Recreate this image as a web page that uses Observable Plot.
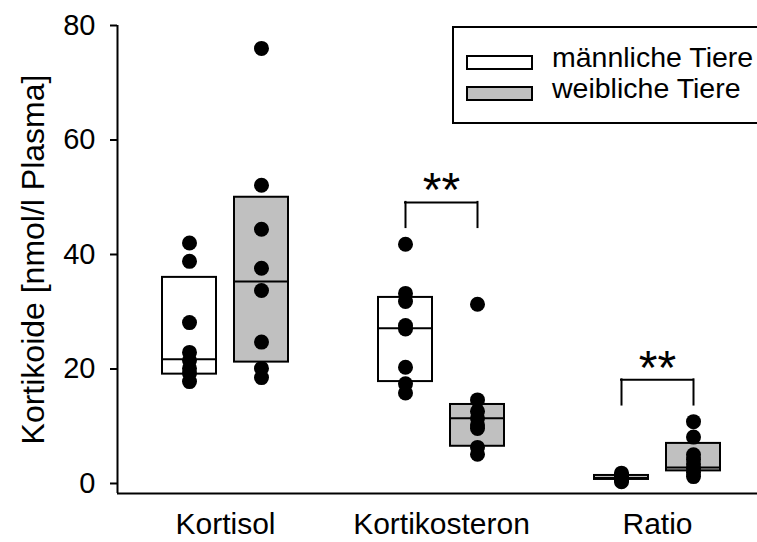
<!DOCTYPE html>
<html><head><meta charset="utf-8">
<script src="https://cdn.jsdelivr.net/npm/d3@7"></script>
<script src="https://cdn.jsdelivr.net/npm/@observablehq/plot@0.6"></script>
<style>
body{margin:0;background:#fff;overflow:hidden;}
#chart{position:relative;width:757px;height:542px;overflow:hidden;}
</style></head><body><div id="chart"></div>
<script>
// ---- data ----
const categories = ["Kortisol", "Kortikosteron", "Ratio"];
const sexes = ["männliche Tiere", "weibliche Tiere"];
const sexFills = ["#ffffff", "#c0c0c0"];

const maleValues = [
  [42.0, 38.8, 28.1, 22.9, 21.5, 20.1, 19.2, 17.8],
  [41.8, 33.2, 31.8, 27.6, 27.0, 20.3, 17.4, 15.8],
  [1.8, 1.5, 1.2, 1.0, 0.9, 0.7, 0.5, 0.3]
];
const femaleValues = [
  [76.0, 52.1, 44.4, 37.6, 33.7, 24.7, 20.1, 18.5],
  [31.3, 14.6, 12.6, 11.4, 10.2, 9.6, 6.3, 5.1],
  [10.8, 8.1, 5.0, 4.2, 3.4, 2.6, 1.9, 1.2]
];
const maleQ1 = [19.1, 17.8, 0.7];
const maleMedian = [21.7, 27.1, 1.0];
const maleQ3 = [36.0, 32.5, 1.4];
const femaleQ1 = [21.2, 6.5, 2.2];
const femaleMedian = [35.3, 11.4, 2.8];
const femaleQ3 = [50.0, 13.8, 7.0];

const sigCategories = ["Kortikosteron", "Ratio"];
const sigLabels = ["**", "**"];
const bracketTop = [49.1, 18.1];
const bracketFoot = [44.7, 13.7];

const yTicks = [0, 20, 40, 60, 80];
const yLabel = "Kortikoide [nmol/l Plasma]";

// ---- build tables ----
const offset = 1 / 6, halfWidth = 0.125;
const pos = (ci, s) => ci + 1 + (s === 0 ? -offset : offset);
const boxes = [];
categories.forEach((c, i) => {
  boxes.push({cat: c, sex: 0, x: pos(i, 0), q1: maleQ1[i], med: maleMedian[i], q3: maleQ3[i]});
  boxes.push({cat: c, sex: 1, x: pos(i, 1), q1: femaleQ1[i], med: femaleMedian[i], q3: femaleQ3[i]});
});
const points = [];
categories.forEach((c, i) => {
  maleValues[i].forEach(v => points.push({x: pos(i, 0), v}));
  femaleValues[i].forEach(v => points.push({x: pos(i, 1), v}));
});
const sig = sigCategories.map((c, k) => {
  const i = categories.indexOf(c);
  return {xc: i + 1, xa: pos(i, 0), xb: pos(i, 1), top: bracketTop[k], foot: bracketFoot[k], label: sigLabels[k]};
});
const legs = sig.flatMap(d => [{x: d.xa, y1: d.foot, y2: d.top}, {x: d.xb, y1: d.foot, y2: d.top}]);

const xDomain = [0.5, 0.5 + 640 / 216];
const yDomain = [-1.75, 80];
const font = "'Liberation Sans', Arial, Helvetica, sans-serif";

const chart = Plot.plot({
  width: 757, height: 542,
  marginLeft: 117, marginRight: 0, marginTop: 25, marginBottom: 49,
  style: {fontFamily: font, background: "#fff", color: "#000", overflow: "visible"},
  x: {domain: xDomain, axis: null},
  y: {domain: yDomain, axis: null},
  marks: [
    Plot.rect(boxes.filter(d => d.sex === 0), {x1: d => d.x - halfWidth, x2: d => d.x + halfWidth, y1: "q1", y2: "q3", fill: sexFills[0], stroke: "#000", strokeWidth: 2}),
    Plot.rect(boxes.filter(d => d.sex === 1), {x1: d => d.x - halfWidth, x2: d => d.x + halfWidth, y1: "q1", y2: "q3", fill: sexFills[1], stroke: "#000", strokeWidth: 2}),
    Plot.ruleY(boxes, {x1: d => d.x - halfWidth, x2: d => d.x + halfWidth, y: "med", stroke: "#000", strokeWidth: 2}),
    Plot.dot(points, {x: "x", y: "v", r: 7.5, fill: "#000", stroke: "none"}),
    Plot.ruleY(sig, {x1: "xa", x2: "xb", y: "top", stroke: "#000", strokeWidth: 2, strokeLinecap: "square"}),
    Plot.ruleX(legs, {x: "x", y1: "y1", y2: "y2", stroke: "#000", strokeWidth: 2, strokeLinecap: "square"}),
    Plot.text(sig, {x: "xc", y: "top", text: "label", fontSize: 48, lineAnchor: "bottom", dy: 4, fill: "#000"}),
    Plot.ruleX([xDomain[0]], {y1: yDomain[0], y2: 80, stroke: "#000", strokeWidth: 2}),
    Plot.ruleY([yDomain[0]], {x1: xDomain[0], x2: xDomain[1], stroke: "#000", strokeWidth: 2}),
    Plot.axisY({ticks: yTicks, tickSize: 7, tickPadding: 15, fontSize: 29, label: null, strokeWidth: 2}),
    Plot.axisX({ticks: [1, 2, 3], tickFormat: i => categories[i - 1], tickSize: 0, tickPadding: 19, fontSize: 30, label: null, anchor: "bottom"}),
    Plot.text([yLabel], {frameAnchor: "left", rotate: -90, dx: -84, fontSize: 32, textAnchor: "middle", lineAnchor: "middle", text: d => d, fill: "#000"})
  ]
});
document.getElementById("chart").appendChild(chart);

// ---- legend (overlapping the plot, top right) ----
const svg = d3.select(chart);
const lg = svg.append("g");
lg.append("rect").attr("x", 453).attr("y", 27).attr("width", 330).attr("height", 96)
  .attr("fill", "#fff").attr("stroke", "#000").attr("stroke-width", 2);
sexes.forEach((s, i) => {
  const base = 67 + i * 31;
  lg.append("rect").attr("x", 467).attr("y", base - 11).attr("width", 65).attr("height", 13)
    .attr("fill", sexFills[i]).attr("stroke", "#000").attr("stroke-width", 2);
  lg.append("text").attr("x", 552).attr("y", base).attr("fill", "#000")
    .style("font-family", font).style("font-size", "28.5px").style("text-anchor", "start")
    .text(s);
});
</script>
</body></html>
